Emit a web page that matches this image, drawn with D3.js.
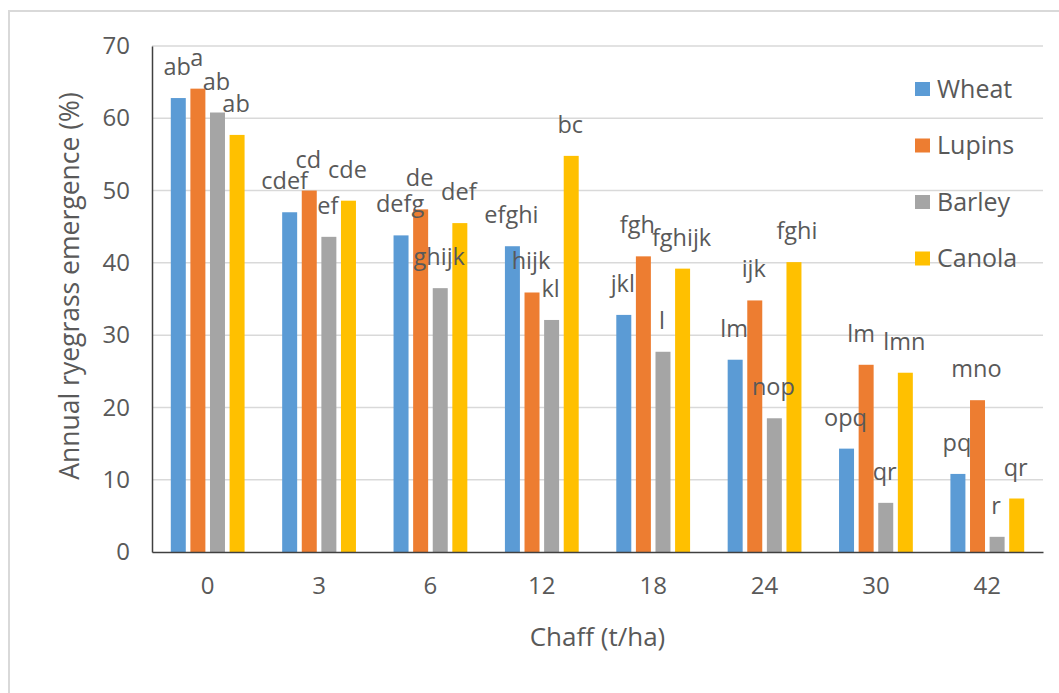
<!DOCTYPE html>
<html>
<head>
<meta charset="UTF-8">
<script src="https://cdnjs.cloudflare.com/ajax/libs/d3/7.8.5/d3.min.js"></script>
<style>
  body { margin: 0; background: #fff; }
  svg text { font-family: "Open Sans", "Noto Sans", sans-serif; fill: #595959; }
</style>
</head>
<body>
<div id="chart"></div>
<script>
// chaff rates (t/ha)
const categories = ["0", "3", "6", "12", "18", "24", "30", "42"];
const seriesNames = ["Wheat", "Lupins", "Barley", "Canola"];

// annual ryegrass emergence (%)
const wheat  = [62.8, 47.0, 43.8, 42.3, 32.8, 26.6, 14.3, 10.8];
const lupins = [64.1, 50.0, 47.4, 35.9, 40.9, 34.8, 25.9, 21.0];
const barley = [60.8, 43.6, 36.5, 32.1, 27.7, 18.5,  6.8,  2.1];
const canola = [57.7, 48.6, 45.5, 54.8, 39.2, 40.1, 24.8,  7.4];

// significance letters
const wheatLetters  = ["ab", "cdef", "defg", "efghi", "jkl", "lm", "opq", "pq"];
const lupinsLetters = ["a", "cd", "de", "hijk", "fgh", "ijk", "lm", "mno"];
const barleyLetters = ["ab", "ef", "ghijk", "kl", "l", "nop", "qr", "r"];
const canolaLetters = ["ab", "cde", "def", "bc", "fghijk", "fghi", "lmn", "qr"];

const yTicks = [0, 10, 20, 30, 40, 50, 60, 70];

const values = [wheat, lupins, barley, canola];
const letters = [wheatLetters, lupinsLetters, barleyLetters, canolaLetters];
const colors = ["#5B9BD5", "#ED7D31", "#A5A5A5", "#FFC000"];

// small hand nudges for labels that were moved in the original
const nudge = { "0-1": -4, "1-4": -5, "1-6": -4, "3-5": 4 };

const width = 1059, height = 693;
const margin = { left: 152, right: 16, top: 46, bottom: 141 };

const svg = d3.select("#chart").append("svg")
  .attr("width", width)
  .attr("height", height);

// outer frame
svg.append("rect")
  .attr("x", 9).attr("y", 11)
  .attr("width", width + 10).attr("height", height + 10)
  .attr("fill", "none")
  .attr("stroke", "#D9D9D9")
  .attr("stroke-width", 2);

const x0 = d3.scaleBand()
  .domain(categories)
  .range([margin.left, width - margin.right])
  .paddingInner(0.3375)
  .paddingOuter(0.16875);

const x1 = d3.scaleBand()
  .domain(seriesNames)
  .range([0, x0.bandwidth()])
  .paddingInner(0.235);

const y = d3.scaleLinear()
  .domain([0, 70])
  .range([height - margin.bottom, margin.top]);

// gridlines
svg.append("g")
  .selectAll("line")
  .data(yTicks.slice(1))
  .join("line")
  .attr("x1", margin.left)
  .attr("x2", width - margin.right)
  .attr("y1", d => y(d))
  .attr("y2", d => y(d))
  .attr("stroke", "#D9D9D9")
  .attr("stroke-width", 1.5);

// y axis
const yAxis = svg.append("g")
  .attr("transform", `translate(${margin.left},0)`)
  .call(d3.axisLeft(y).tickValues(yTicks).tickSize(0).tickPadding(22));
yAxis.select(".domain").attr("stroke", "#404040").attr("stroke-width", 1.5);
yAxis.selectAll("text")
  .style("font-size", "24px")
  .attr("fill", "#595959");

const cells = values.flatMap((vals, si) => vals.map((v, gi) => ({
  s: seriesNames[si], si, gi, v, t: letters[si][gi]
})));

// bars
svg.append("g")
  .selectAll("rect")
  .data(cells)
  .join("rect")
  .attr("x", d => x0(categories[d.gi]) + x1(d.s))
  .attr("width", x1.bandwidth())
  .attr("y", d => y(d.v))
  .attr("height", d => y(0) - y(d.v))
  .attr("fill", d => colors[d.si]);

// letters, drawn over all bars
svg.append("g")
  .selectAll("text")
  .data(cells)
  .join("text")
  .attr("x", d => x0(categories[d.gi]) + x1(d.s) + x1.bandwidth() / 2 - 1 + (nudge[d.si + "-" + d.gi] || 0))
  .attr("y", d => y(d.v) - 23)
  .attr("text-anchor", "middle")
  .style("font-size", "23.5px")
  .text(d => d.t);

// x axis baseline
const xAxis = svg.append("g")
  .attr("transform", `translate(0,${y(0)})`)
  .call(d3.axisBottom(x0).tickSize(0).tickPadding(25));
xAxis.select(".domain").attr("stroke", "#404040").attr("stroke-width", 1.5);
xAxis.selectAll("text")
  .style("font-size", "24px")
  .attr("fill", "#595959");

// axis titles
svg.append("text")
  .attr("x", (margin.left + width - margin.right) / 2)
  .attr("y", 646)
  .attr("text-anchor", "middle")
  .style("font-size", "26px")
  .text("Chaff (t/ha)");

svg.append("text")
  .attr("transform", "translate(79,286) rotate(-90)")
  .attr("text-anchor", "middle")
  .style("font-size", "26.5px")
  .text("Annual ryegrass emergence (%)");

// legend
const legend = svg.append("g")
  .selectAll("g")
  .data(seriesNames)
  .join("g")
  .attr("transform", (d, i) => `translate(915,${89 + i * 56.5})`);

legend.append("rect")
  .attr("x", 0).attr("y", -7)
  .attr("width", 15).attr("height", 14)
  .attr("fill", (d, i) => colors[i]);

legend.append("text")
  .attr("x", 22)
  .attr("dy", "0.35em")
  .style("font-size", "25px")
  .text(d => d);
</script>
</body>
</html>
